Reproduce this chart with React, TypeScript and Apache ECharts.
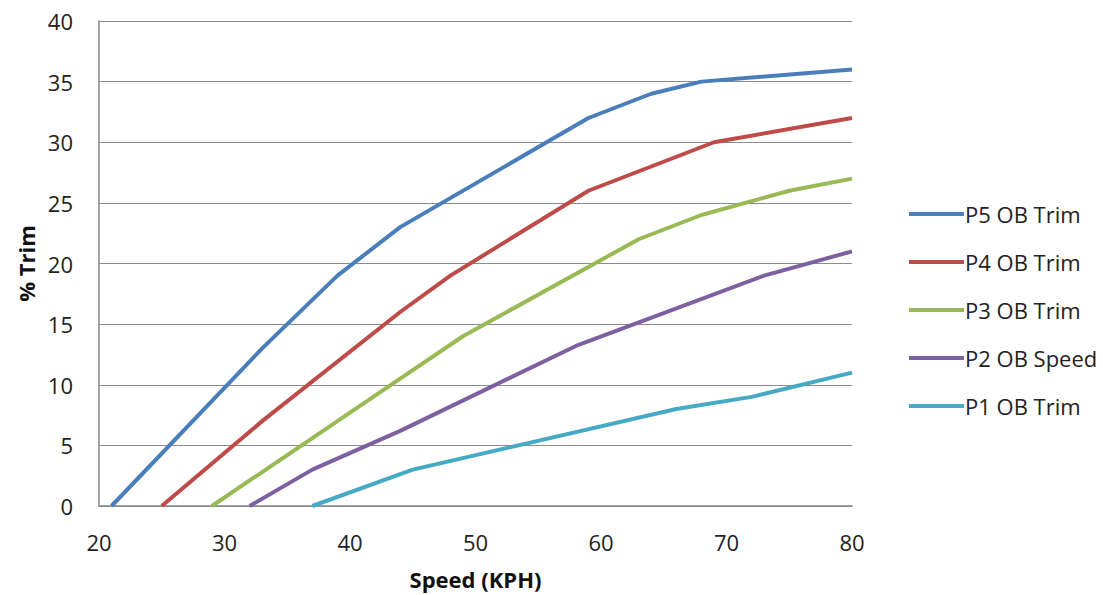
import React, { useEffect, useRef } from "react";
import * as echarts from "echarts";

const seriesNames = ["P5 OB Trim", "P4 OB Trim", "P3 OB Trim", "P2 OB Speed", "P1 OB Trim"];
const seriesColors = ["#4A7EBB", "#BE4B48", "#98B954", "#7D60A0", "#46AAC5"];

const p5: [number, number][] = [[21, 0], [33, 13], [39, 19], [44, 23], [59, 32], [64, 34], [68, 35], [80, 36]];
const p4: [number, number][] = [[25, 0], [33, 7], [44, 16], [48, 19], [59, 26], [64, 28], [69, 30], [80, 32]];
const p3: [number, number][] = [[29, 0], [44, 10.5], [49, 14], [63, 22], [68, 24], [75, 26], [80, 27]];
const p2: [number, number][] = [[32, 0], [37, 3], [44, 6.2], [58, 13.2], [73, 19], [80, 21]];
const p1: [number, number][] = [[37, 0], [45, 3], [66, 8], [72, 9], [80, 11]];
const seriesData = [p5, p4, p3, p2, p1];

const FONT = "'Open Sans', 'Noto Sans', sans-serif";

export default function App() {
  const ref = useRef<HTMLDivElement>(null);
  useEffect(() => {
    if (!ref.current) return;
    const chart = echarts.init(ref.current, undefined, { renderer: "svg" });
    chart.setOption({
      animation: false,
      backgroundColor: "#ffffff",
      grid: { left: 99, right: 251, top: 21, bottom: 88 },
      legend: {
        orient: "vertical",
        left: 904,
        top: 197,
        icon: "rect",
        itemWidth: 55,
        itemHeight: 4,
        itemGap: 24,
        data: seriesNames,
        textStyle: { fontFamily: FONT, fontSize: 22, color: "#222", lineHeight: 24, padding: [0, 0, 0, -4] },
      },
      xAxis: {
        type: "value",
        min: 20,
        max: 80,
        interval: 10,
        name: "Speed (KPH)",
        nameLocation: "middle",
        nameGap: 62,
        nameTextStyle: { fontFamily: FONT, fontSize: 22, fontWeight: "bold", color: "#111" },
        axisLine: { show: true, lineStyle: { color: "#888", width: 1.5 } },
        axisTick: { show: false },
        splitLine: { show: false },
        axisLabel: { fontFamily: FONT, fontSize: 22, color: "#222", margin: 25 },
      },
      yAxis: {
        type: "value",
        min: 0,
        max: 40,
        interval: 5,
        name: "% Trim",
        nameLocation: "middle",
        nameGap: 61,
        nameTextStyle: { fontFamily: FONT, fontSize: 22, fontWeight: "bold", color: "#111" },
        axisLine: { show: true, lineStyle: { color: "#888", width: 1.5 } },
        axisTick: { show: false },
        splitLine: { show: true, lineStyle: { color: "#8c8c8c", width: 1.2 } },
        axisLabel: { fontFamily: FONT, fontSize: 22, color: "#222", margin: 26 },
      },
      series: seriesNames.map((name, i) => ({
        name,
        type: "line",
        data: seriesData[i],
        symbol: "none",
        color: seriesColors[i],
        lineStyle: { width: 4, color: seriesColors[i] },
      })),
    });
    return () => chart.dispose();
  }, []);
  return <div ref={ref} style={{ position: "fixed", left: 0, top: 0, width: 1103, height: 595 }} />;
}
